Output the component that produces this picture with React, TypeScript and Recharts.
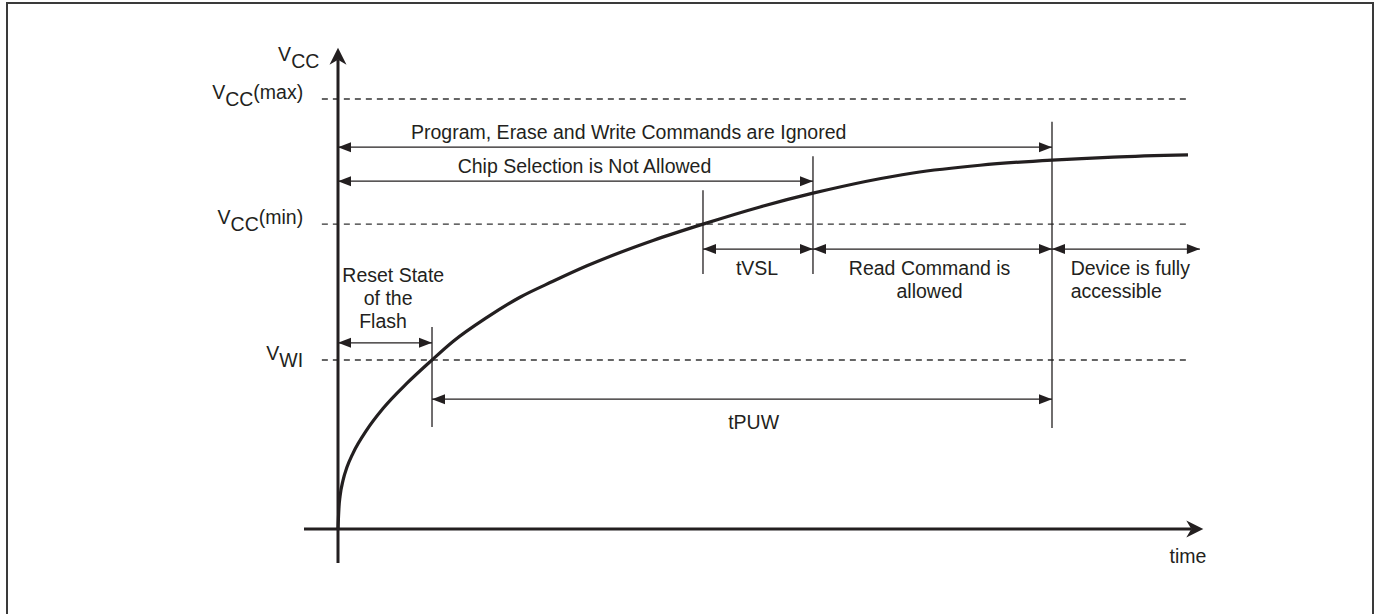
import { ComposedChart, Line, XAxis, YAxis, ReferenceLine, ReferenceDot } from 'recharts';

const INK = '#231f20';
const FONT = '"Liberation Sans", Arial, sans-serif';
const FS = 19.5;

// Vcc ramp (arbitrary time / voltage units)
const rampTime = [0, 0.12, 0.24, 0.59, 1.06, 1.76, 3.41, 5.29, 8.12, 11.06, 13.53, 17.53, 21.41, 25.29, 29.29, 33.18, 37.06, 42.94, 49.65, 55.88, 67.65, 75.53, 84.0, 91.18, 100];
const rampVcc = [0, 5.2, 7.6, 11.3, 14.4, 17.6, 23.1, 28.0, 33.9, 39.3, 43.6, 49.2, 53.9, 57.6, 61.2, 64.3, 67.1, 70.9, 74.9, 78.1, 82.8, 84.6, 85.8, 86.5, 87.0];

// threshold levels
const levelValue = [100, 70.9, 39.3];
const levelSub = ['CC', 'CC', 'WI'];
const levelSuffix = ['(max)', '(min)', ''];

// event times on the ramp
const tWI = 11.06;
const tMin = 42.94;
const tSel = 55.88;
const tPuw = 84.0;
const tEnd = 101.4;

// horizontal dimension arrows
const spanFrom = [0, 0, tMin, tSel, tPuw, 0, tWI];
const spanTo = [tPuw, tSel, tSel, tPuw, tEnd, tWI, tPuw];
const spanLevel = [88.8, 80.9, 65.1, 65.1, 65.1, 43.3, 30.2];

// vertical marker lines
const markTime = [tWI, tMin, tSel, tPuw];
const markTop = [47.0, 78.8, 86.7, 94.7];
const markBottom = [23.7, 59.3, 59.3, 23.5];

// annotation texts
const noteText = [
  ['Program, Erase and Write Commands are Ignored'],
  ['Chip Selection is Not Allowed'],
  ['tVSL'],
  ['Read Command is', 'allowed'],
  ['tPUW'],
  ['time'],
];
const noteX = [34.2, 29.0, 49.3, 69.6, 48.9, 100];
const noteY = [90.7, 82.8, 59.1, 59.1, 23.3, -7.9];

const resetText = ['Reset State', 'of the', 'Flash'];
const resetX = [6.5, 5.9, 5.3];
const resetY = [57.4, 52.1, 46.7];

const deviceText = ['Device is fully', 'accessible'];

const data = rampTime.map((t, i) => ({ t, v: rampVcc[i] }));

function spanShape(p: any) {
  const { x1, y1, x2, y2 } = p;
  const L = 13;
  const H = 5;
  const dx = x2 - x1;
  const dy = y2 - y1;
  const len = Math.hypot(dx, dy) || 1;
  const ux = dx / len;
  const uy = dy / len;
  const head = (tx: number, ty: number, sx: number, sy: number) =>
    `M${tx},${ty} L${tx - sx * L - sy * H},${ty - sy * L + sx * H} L${tx - sx * L + sy * H},${ty - sy * L - sx * H} Z`;
  return (
    <g>
      <line x1={x1} y1={y1} x2={x2} y2={y2} stroke={INK} strokeWidth={1.3} />
      <path d={head(x2, y2, ux, uy)} fill={INK} />
      <path d={head(x1, y1, -ux, -uy)} fill={INK} />
    </g>
  );
}

function axisShape(p: any) {
  const { x1, y1, x2, y2 } = p;
  const dx = x2 - x1;
  const dy = y2 - y1;
  const len = Math.hypot(dx, dy) || 1;
  const ux = dx / len;
  const uy = dy / len;
  const L = 17;
  const N = 12;
  const H = 8.5;
  const bx = x2 - ux * L;
  const by = y2 - uy * L;
  const d = `M${x2},${y2} L${bx - uy * H},${by + ux * H} L${x2 - ux * N},${y2 - uy * N} L${bx + uy * H},${by - ux * H} Z`;
  return (
    <g>
      <line x1={x1} y1={y1} x2={x2 - ux * N} y2={y2 - uy * N} stroke={INK} strokeWidth={3} />
      <path d={d} fill={INK} />
    </g>
  );
}

const lineShape = (p: any) => (
  <line x1={p.x1} y1={p.y1} x2={p.x2} y2={p.y2} stroke={INK} strokeWidth={1.3} />
);

const textProps = { fill: INK, fontFamily: FONT, fontSize: FS };

function noteShape(lines: string[], anchor: 'start' | 'middle' | 'end') {
  return (p: any) => (
    <text x={p.cx} y={p.cy} textAnchor={anchor} {...textProps}>
      {lines.map((s, i) => (
        <tspan key={i} x={p.cx} dy={i === 0 ? 0 : 23}>
          {s}
        </tspan>
      ))}
    </text>
  );
}

function levelShape(sub: string, suffix: string) {
  return (p: any) => (
    <text x={p.cx} y={p.cy} textAnchor="end" {...textProps}>
      <tspan>V</tspan>
      <tspan dy={7}>{sub}</tspan>
      {suffix ? <tspan dy={-7}>{suffix}</tspan> : null}
    </text>
  );
}

export default function App() {
  return (
    <div style={{ position: 'relative', width: 1379, height: 614, overflow: 'hidden', background: '#fff' }}>
      <style>{'body{margin:0;overflow:hidden}'}</style>
      <div
        style={{
          position: 'absolute',
          left: 6,
          top: 2,
          width: 1368,
          height: 700,
          border: '2px solid #3a3a3a',
          boxSizing: 'border-box',
        }}
      />
      <div style={{ position: 'absolute', left: 0, top: 0 }}>
        <ComposedChart width={1379} height={614} data={data} margin={{ top: 47.4, right: 174, bottom: 50.6, left: 304 }}>
          <XAxis type="number" dataKey="t" domain={[-4, 102]} allowDataOverflow hide />
          <YAxis type="number" domain={[-8, 112]} allowDataOverflow hide />

          {levelValue.map((v, i) => (
            <ReferenceLine
              key={`lv${i}`}
              segment={[{ x: -1.9, y: v }, { x: 100.2, y: v }]}
              stroke="#333"
              strokeWidth={1.3}
              strokeDasharray="6 5"
              ifOverflow="visible"
            />
          ))}

          <ReferenceLine segment={[{ x: 0, y: -7.9 }, { x: 0, y: 111.9 }]} shape={axisShape} ifOverflow="visible" />
          <ReferenceLine segment={[{ x: -4, y: 0 }, { x: 101.8, y: 0 }]} shape={axisShape} ifOverflow="visible" />

          {markTime.map((t, i) => (
            <ReferenceLine
              key={`mk${i}`}
              segment={[{ x: t, y: markBottom[i] }, { x: t, y: markTop[i] }]}
              shape={lineShape}
              ifOverflow="visible"
            />
          ))}

          {spanFrom.map((f, i) => (
            <ReferenceLine
              key={`sp${i}`}
              segment={[{ x: f, y: spanLevel[i] }, { x: spanTo[i], y: spanLevel[i] }]}
              shape={spanShape}
              ifOverflow="visible"
            />
          ))}

          <Line
            type="monotone"
            dataKey="v"
            stroke={INK}
            strokeWidth={3.2}
            dot={false}
            activeDot={false}
            isAnimationActive={false}
          />

          <ReferenceDot
            x={-2.2}
            y={108.8}
            r={0}
            ifOverflow="visible"
            shape={levelShape('CC', '')}
          />
          {levelValue.map((v, i) => (
            <ReferenceDot
              key={`ll${i}`}
              x={-4.1}
              y={v}
              r={0}
              ifOverflow="visible"
              shape={levelShape(levelSub[i], levelSuffix[i])}
            />
          ))}

          {noteText.map((lines, i) => (
            <ReferenceDot
              key={`nt${i}`}
              x={noteX[i]}
              y={noteY[i]}
              r={0}
              ifOverflow="visible"
              shape={noteShape(lines, 'middle')}
            />
          ))}
          {resetText.map((s, i) => (
            <ReferenceDot
              key={`rs${i}`}
              x={resetX[i]}
              y={resetY[i]}
              r={0}
              ifOverflow="visible"
              shape={noteShape([s], 'middle')}
            />
          ))}
          <ReferenceDot x={86.2} y={59.1} r={0} ifOverflow="visible" shape={noteShape(deviceText, 'start')} />
        </ComposedChart>
      </div>
    </div>
  );
}
